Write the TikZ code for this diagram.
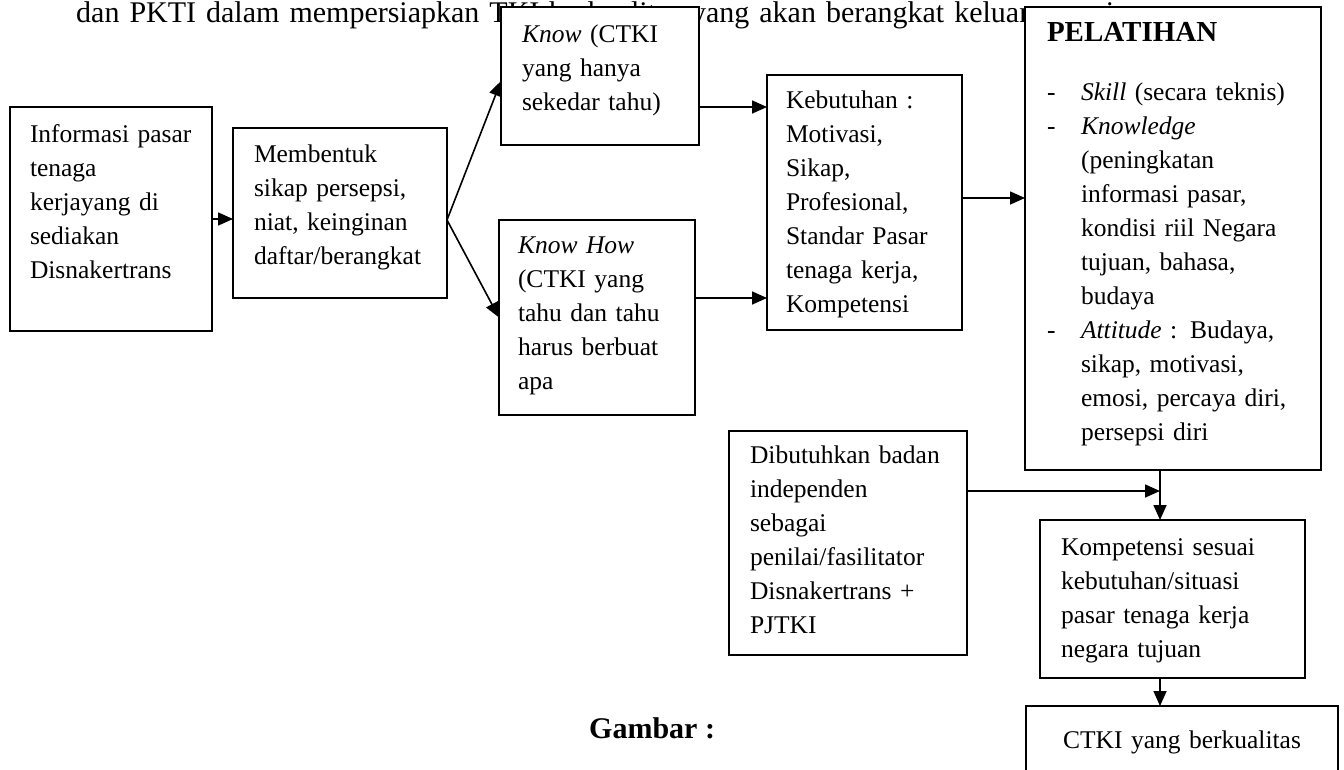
\documentclass[tikz,border=0pt]{standalone}
\usepackage{fontspec}
\setmainfont{Liberation Serif}
\usetikzlibrary{arrows.meta}

\newcommand{\butir}{\makebox[34pt][l]{-}}
\newcommand{\lanjut}{\hspace*{34pt}}

\begin{document}
\begin{tikzpicture}[x=1pt,y=-1pt,
  kotak/.style={draw, line width=1.8pt, fill=white, anchor=north west, align=left, inner sep=0pt, outer sep=0pt, font=\fontsize{25.5}{34}\selectfont},
  pad/.style={execute at begin node={\leftskip=#1\relax}},
  panah/.style={-{Triangle[length=15pt,width=13pt]}, line width=1.6pt}]

\useasboundingbox (0,0) rectangle (1344,769);

\node[anchor=base west, inner sep=0pt, font=\fontsize{30}{34}\selectfont] (judul) at (76,22) {\spaceskip=10pt dan PKTI dalam mempersiapkan TKI berkualitas yang akan berangkat keluar negeri};

\node[kotak, pad=20pt, text width=202pt, text height=35pt, text depth=189pt] (info) at (10,107) {Informasi pasar\\tenaga\\kerjayang di\\sediakan\\Disnakertrans};

\node[kotak, pad=21pt, text width=214pt, text height=34pt, text depth=136pt] (form) at (233,128) {Membentuk\\sikap persepsi,\\niat, keinginan\\daftar/berangkat};

\node[kotak, pad=21pt, text width=198pt, text height=35pt, text depth=103pt] (know) at (501,7) {\textit{Know} (CTKI\\yang hanya\\sekedar tahu)};

\node[kotak, pad=19pt, text width=196pt, text height=33pt, text depth=162pt] (knowhow) at (499,220) {\textit{Know How}\\(CTKI yang\\tahu dan tahu\\harus berbuat\\apa};

\node[kotak, pad=19pt, text width=195pt, text height=33pt, text depth=222pt] (keb) at (767,75) {Kebutuhan :\\Motivasi,\\Sikap,\\Profesional,\\Standar Pasar\\tenaga kerja,\\Kompetensi};

\node[kotak, pad=22pt, text width=296pt, text height=34pt, text depth=429pt] (pel) at (1025,7) {\textbf{\fontsize{29}{34}\selectfont PELATIHAN}\\[25pt]
\butir\textit{Skill} (secara teknis)\\
\butir\textit{Knowledge}\\
\lanjut(peningkatan\\
\lanjut informasi pasar,\\
\lanjut kondisi riil Negara\\
\lanjut tujuan, bahasa,\\
\lanjut budaya\\
\butir\textit{Attitude} : Budaya,\\
\lanjut sikap, motivasi,\\
\lanjut emosi, percaya diri,\\
\lanjut persepsi diri};

\node[kotak, pad=21pt, text width=238pt, text height=32pt, text depth=192pt] (dib) at (729,431) {Dibutuhkan badan\\independen\\sebagai\\penilai/fasilitator\\Disnakertrans +\\PJTKI};

\node[kotak, pad=21pt, text width=265pt, text height=35pt, text depth=123pt] (komp) at (1040,520) {Kompetensi sesuai\\kebutuhan/situasi\\pasar tenaga kerja\\negara tujuan};

\node[kotak, align=center, text width=312pt, text height=42pt, text depth=40pt] (ctki) at (1026,706) {CTKI yang berkualitas};

\node[anchor=base west, inner sep=0pt, font=\bfseries\fontsize{30}{36}\selectfont] (gambar) at (589,738) {Gambar :};

\coordinate (pisah) at ([yshift=-7pt]form.east);
\coordinate (k1) at ([yshift=-31pt]know.east);
\coordinate (k2) at ([yshift=19.5pt]knowhow.east);
\coordinate (k3) at ([yshift=4.5pt]keb.east);
\coordinate (temu) at (1160,491);

\draw[panah] (info.east) -- (info.east -| form.west);

\draw[panah] (pisah) -- ([yshift=-5pt]know.west);

\draw[panah] (pisah) -- (knowhow.west);

\draw[panah] (k1) -- (k1 -| keb.west);

\draw[panah] (k2) -- (k2 -| keb.west);

\draw[panah] (k3) -- (k3 -| pel.west);

\draw[panah] (temu |- pel.south) -- (temu |- komp.north);

\draw[panah] (temu -| dib.east) -- (temu);

\draw[panah] (temu |- komp.south) -- (temu |- ctki.north);

\end{tikzpicture}
\end{document}
